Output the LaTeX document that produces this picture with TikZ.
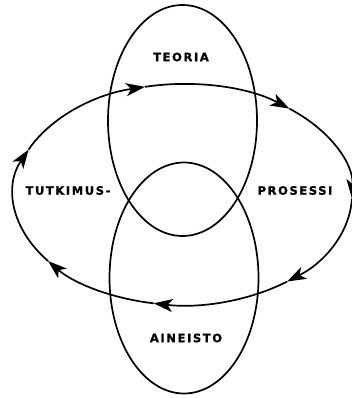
\documentclass[tikz,border=0pt]{standalone}
\usepackage{fontspec}
\newfontfamily\lblfont{DejaVu Sans}[LetterSpace=14,BoldFont={DejaVu Sans Bold},BoldFeatures={FakeBold=1.2}]
\usetikzlibrary{positioning,shapes.geometric,arrows.meta}

\tikzset{
  field/.style={draw,ellipse,line width=1.7pt,minimum width=149pt,minimum height=231pt,inner sep=0pt},
  lbl/.style={font=\lblfont\bfseries\fontsize{11.5}{13}\selectfont,inner sep=0pt},
  cyc/.style={line width=1.7pt,-{Stealth[length=19pt,width=13pt,inset=5pt]}}
}

\begin{document}
\begin{tikzpicture}[x=1pt,y=-1pt]
  \useasboundingbox (0,0) rectangle (351,398);
  % two overlapping fields
  \node[field] (teoria) at (182.5,120.5) {};
  \node[field] (aineisto) at (184,278) {};
  % research process cycle
  \coordinate (c) at (183,194.5);
  \foreach \a/\b in {-156/-103,-103/-51,-51/2,2/52,52/100,100/143,143/204}
    {\draw[cyc] (c) ++(\a:169 and 110.5) arc[start angle=\a,end angle=\b,x radius=169,y radius=110.5];}
  % labels
  \node[lbl] (teorialbl) at (181,57) {TEORIA};
  \node[lbl] (tutklbl) at (68,190.5) {TUTKIMUS-};
  \node[lbl] (proslbl) at (295,190.5) {PROSESSI};
  \node[lbl] (ainlbl) at (186,338) {AINEISTO};
\end{tikzpicture}
\end{document}
